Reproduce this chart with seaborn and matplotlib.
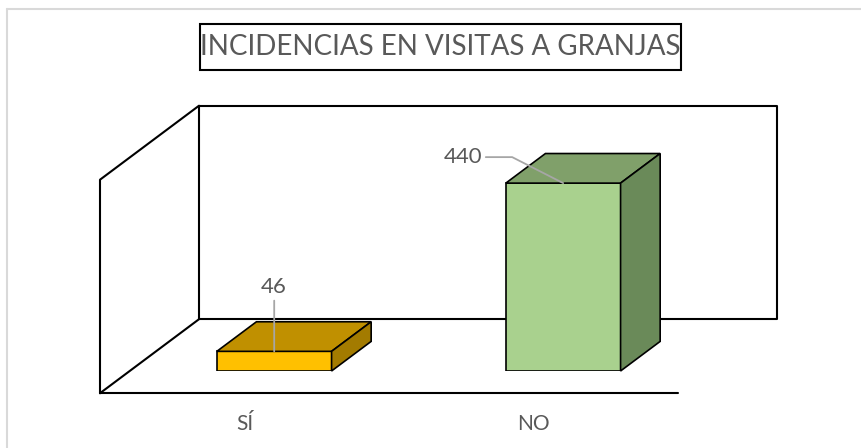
import matplotlib
matplotlib.use("Agg")
import matplotlib.pyplot as plt
import seaborn as sns
from matplotlib.lines import Line2D
from matplotlib.patches import Polygon, Rectangle
from matplotlib.transforms import IdentityTransform, Affine2D

# data
categories = ["SÍ", "NO"]
values = [46, 440]
front_colors = ["#ffc000", "#a9d18e"]
top_colors = ["#c09000", "#80a06a"]
side_colors = ["#a37b00", "#6a8a59"]
title = "INCIDENCIAS EN VISITAS A GRANJAS"

sns.set_theme(style="white")
plt.rcParams["font.family"] = ["Lato", "DejaVu Sans"]
text_color = "#595959"

W, H = 862, 448
fig = plt.figure(figsize=(W / 100, H / 100), dpi=100)

# front plane of the bars (the 3d box is built around it)
ax = fig.add_axes([129.7 / W, 77 / H, 578 / W, 213.5 / H])
ax.set_facecolor("none")

sns.barplot(x=categories, y=values, hue=categories, palette=front_colors,
            width=0.397, edgecolor="black", linewidth=1.2, saturation=1,
            legend=False, ax=ax, zorder=2)
ax.set_xlim(-0.5, 1.5)
ax.set_ylim(0, 500)
sns.despine(ax=ax, left=True, bottom=True)
ax.set_yticks([])
ax.set_ylabel("")
ax.set_xlabel("")

# depth vector of the full box in pixels
DX, DY = 99, 74
back = 0.7
front = -0.3

def shift(p, f):
    return (p[0] + DX * f, p[1] + DY * f)

bl = ax.transAxes.transform((0, 0))
br = ax.transAxes.transform((1, 0))
tl = ax.transAxes.transform((0, 1))
tr = ax.transAxes.transform((1, 1))

wall_kw = dict(color="black", lw=1.5, transform=IdentityTransform(), clip_on=False, zorder=0.5)
segments = [
    # back wall
    [shift(bl, back), shift(br, back), shift(tr, back), shift(tl, back), shift(bl, back)],
    # floor
    [shift(bl, front), shift(br, front)],
    [shift(bl, front), shift(bl, back)],
    # left wall
    [shift(bl, front), shift(tl, front), shift(tl, back)],
]
for seg in segments:
    xs = [p[0] for p in seg]
    ys = [p[1] for p in seg]
    ax.add_line(Line2D(xs, ys, **wall_kw))

# top and side faces of the bars
bd = 0.4
for patch, tc, sc in zip(ax.patches, top_colors, side_colors):
    x0 = patch.get_x()
    x1 = x0 + patch.get_width()
    h = patch.get_height()
    p00 = ax.transData.transform((x0, h))
    p10 = ax.transData.transform((x1, h))
    p1b = ax.transData.transform((x1, 0))
    top = [p00, p10, shift(p10, bd), shift(p00, bd)]
    side = [p1b, p10, shift(p10, bd), shift(p1b, bd)]
    for pts, c in [(top, tc), (side, sc)]:
        ax.add_patch(Polygon(pts, closed=True, facecolor=c, edgecolor="black",
                             lw=1.2, transform=IdentityTransform(),
                             clip_on=False, zorder=2))

# value labels with leader lines
ax.annotate(str(values[0]), xy=(0, values[0]), xytext=(0, 64),
            textcoords="offset pixels", ha="center", va="center",
            fontsize=16, color=text_color, zorder=3,
            arrowprops=dict(arrowstyle="-", color="#a6a6a6", lw=1.3,
                            shrinkA=0, shrinkB=0))
ax.annotate(str(values[1]), xy=(1, values[1]), xytext=(-100, 26),
            textcoords="offset pixels", ha="center", va="center",
            fontsize=16, color=text_color, zorder=3,
            arrowprops=dict(arrowstyle="-", color="#a6a6a6", lw=1.3,
                            shrinkA=0, shrinkB=0,
                            connectionstyle="angle,angleA=0,angleB=153,rad=0"))

# category labels on the front edge of the floor
ax.set_xticks(range(len(categories)))
ax.set_xticklabels(categories)
ax.tick_params(axis="x", length=0, pad=31, labelsize=15, labelcolor=text_color)
for lab in ax.get_xticklabels():
    lab.set_transform(lab.get_transform() + Affine2D().translate(-29.7, 0))

# title in a box
fig.patches.append(Rectangle((200 / W, 1 - 70 / H), 481 / W, 46 / H,
                             transform=fig.transFigure, fill=False,
                             ec="black", lw=1.5))
fig.text(440 / W, 1 - 47 / H, title, ha="center", va="center",
         fontsize=20, color=text_color)

# light outer frame
fig.lines.append(Line2D([7 / W, 7 / W], [0, 1 - 9 / H], color="#d9d9d9",
                        lw=1.5, transform=fig.transFigure))
fig.lines.append(Line2D([7 / W, 1], [1 - 9 / H, 1 - 9 / H], color="#d9d9d9",
                        lw=1.5, transform=fig.transFigure))

fig.savefig("out.png", dpi=100)
